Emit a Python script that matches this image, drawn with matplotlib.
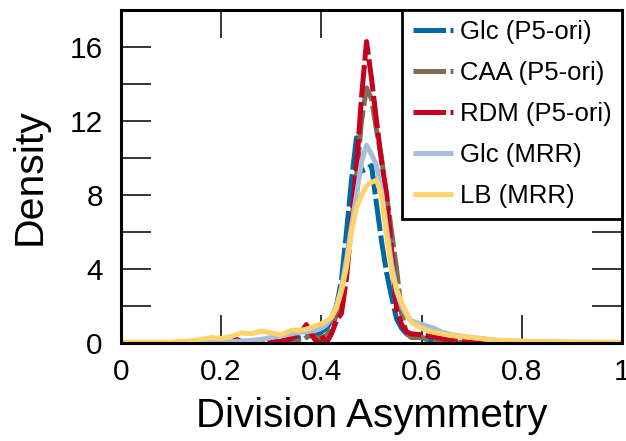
import matplotlib
matplotlib.use("Agg")
import matplotlib.pyplot as plt
import numpy as np

plt.rcParams['font.family'] = ['Liberation Sans', 'DejaVu Sans']

# division asymmetry grid (shared by all curves)
asym = [0, 0.05, 0.1, 0.15, 0.18, 0.2, 0.22, 0.24, 0.26, 0.28,
        0.3, 0.32, 0.34, 0.36, 0.37, 0.38, 0.39, 0.4, 0.41, 0.42,
        0.43, 0.44, 0.45, 0.46, 0.47, 0.48, 0.49, 0.5, 0.51, 0.52,
        0.53, 0.54, 0.55, 0.56, 0.57, 0.58, 0.6, 0.62, 0.64, 0.66,
        0.7, 0.75, 0.8, 0.9, 1.0]

# density estimates
glc_p5 = [0, 0, 0, 0, 0, 0, 0, 0.02, 0.05, 0.05,
          0.05, 0.1, 0.2, 0.3, 0.35, 0.4, 0.5, 0.6, 0.8, 1.2,
          2.0, 3.4, 6.0, 8.8, 11.1, 9.3, 9.4, 9.6, 7.5, 5.5,
          3.8, 2.5, 1.3, 0.8, 0.5, 0.4, 0.3, 0.1, 0.05, 0.03,
          0.02, 0, 0, 0, 0]
caa_p5 = [0, 0, 0, 0, 0, 0, 0, 0, 0, 0,
          0, 0, 0.05, 0.1, 0.3, 0.5, 0.3, 0.3, 0.4, 0.8,
          1.5, 2.8, 4.5, 6.5, 9.0, 12.0, 13.8, 13.2, 11.5, 10.0,
          8.0, 6.0, 4.0, 1.6, 0.5, 0.3, 0.3, 0.15, 0.1, 0.05,
          0.02, 0, 0, 0, 0]
rdm_p5 = [0, 0, 0, 0, 0, 0.1, 0.3, 0.1, 0.05, 0.05,
          0.05, 0.1, 0.25, 0.6, 1.0, 0.5, 0.05, 0.4, 0.0, 0.5,
          1.2, 1.6, 3.5, 6.5, 9.5, 13.3, 16.3, 14.3, 12.0, 9.8,
          8.0, 5.0, 1.8, 1.0, 0.6, 0.5, 0.45, 0.35, 0.25, 0.15,
          0.05, 0, 0, 0, 0]
glc_mrr = [0, 0, 0, 0.02, 0.05, 0.05, 0.08, 0.1, 0.15, 0.2,
           0.3, 0.4, 0.5, 0.6, 0.62, 0.65, 0.7, 0.8, 1.0, 1.4,
           2.0, 3.0, 4.5, 6.3, 8.0, 9.8, 10.7, 10.2, 9.6, 8.2,
           6.2, 4.3, 2.8, 2.0, 1.5, 1.2, 1.0, 0.85, 0.6, 0.45,
           0.3, 0.15, 0.1, 0.05, 0.02]
lb_mrr = [0.05, 0.05, 0.05, 0.15, 0.3, 0.25, 0.35, 0.55, 0.5, 0.65,
          0.55, 0.45, 0.7, 0.7, 0.75, 0.85, 0.95, 1.05, 1.2, 1.4,
          1.9, 2.8, 4.1, 6.0, 7.3, 8.0, 8.5, 8.7, 8.8, 8.0,
          5.8, 3.9, 2.9, 2.2, 1.6, 1.1, 0.8, 0.6, 0.5, 0.4,
          0.3, 0.15, 0.1, 0.05, 0.05]

labels = ['Glc (P5-ori)', 'CAA (P5-ori)', 'RDM (P5-ori)', 'Glc (MRR)', 'LB (MRR)']
colors = ['#0068a3', '#7f6c52', '#c6001f', '#a7bedb', '#ffd36c']
series = [glc_p5, caa_p5, rdm_p5, glc_mrr, lb_mrr]
dashed = [True, True, True, False, False]

fig = plt.figure(figsize=(6.26, 4.41), dpi=100)
ax = fig.add_axes([0.193, 0.222, 0.801, 0.755])

for vals, lab, col, dash in zip(series, labels, colors, dashed):
    line, = ax.plot(asym, vals, color=col, lw=3.6, label=lab, solid_capstyle='butt')
    if dash:
        line.set_dashes((6.5, 0.9))

ax.set_xlim(0, 1)
ax.set_ylim(0, 18)
ax.set_xticks([0, 0.2, 0.4, 0.6, 0.8, 1])
ax.set_xticklabels(['0', '0.2', '0.4', '0.6', '0.8', '1'])
ax.set_yticks([0, 4, 8, 12, 16])
ax.set_yticks([2, 6, 10, 14], minor=True)

ax.tick_params(axis='both', which='both', direction='in', top=True, right=True,
               width=1.1, labelsize=21.5)
ax.tick_params(axis='x', which='major', length=20, pad=11)
ax.tick_params(axis='y', which='both', length=21.5, pad=13)
for sp in ax.spines.values():
    sp.set_linewidth(2.2)

ax.set_xlabel('Division Asymmetry', fontsize=29, labelpad=8)
ax.set_ylabel('Density', fontsize=29.5, labelpad=15)

leg = ax.legend(loc='upper right', fontsize=18.5, borderaxespad=0, fancybox=False,
                framealpha=1, edgecolor='black', handlelength=1.55,
                handletextpad=0.3, labelspacing=0.66, borderpad=0.4)
leg.get_frame().set_linewidth(2.0)

fig.savefig('out.png', dpi=100)
